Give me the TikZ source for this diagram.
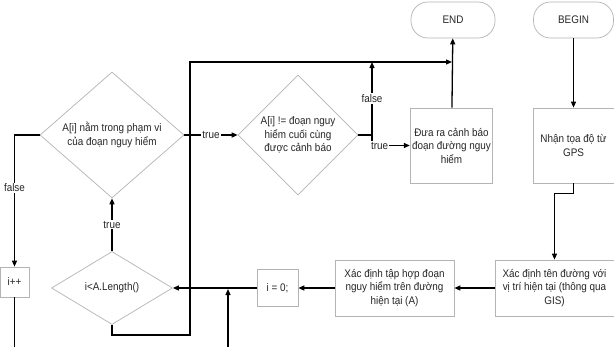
\documentclass[tikz,border=0pt]{standalone}
\usepackage{fontspec}
\setmainfont{Liberation Sans}[FakeStretch=0.9]
\usetikzlibrary{shapes.geometric, arrows.meta}
\definecolor{gborder}{HTML}{B4B4B4}
\definecolor{txt}{HTML}{262626}
\begin{document}
\begin{tikzpicture}[x=1pt, y=-1pt,
  font=\fontsize{11}{13.5}\selectfont,
  box/.style={draw=gborder, line width=0.7pt, align=center, inner sep=2pt, text=txt},
  dia/.style={diamond, draw=gborder, line width=0.7pt, align=center, inner sep=0pt, text=txt},
  term/.style={draw=gborder, rounded corners=17pt, line width=0.7pt, minimum width=84pt, minimum height=36pt, text=txt},
  conn/.style={line width=1.3pt, draw=black},
  arr/.style={conn, -{Triangle[length=6pt,width=5pt]}},
  lab/.style={fill=white, inner sep=1pt, text=txt}]
\useasboundingbox (0,0) rectangle (614,346);
\fill[white] (0,0) rectangle (614,346);
\clip (0,0) rectangle (614,346);

\node[term] (end) at (453,20) {END};
\node[term, minimum width=80pt] (begin) at (573.5,20) {BEGIN};
\node[box, minimum width=81pt, minimum height=75pt] (warn) at (451.5,145.5) {Đưa ra cảnh báo\\đoạn đường nguy\\hiểm};
\node[box, minimum width=81pt, minimum height=75pt] (gps) at (573.5,145.5) {Nhận tọa độ từ\\GPS};
\node[box, minimum width=119pt, minimum height=56pt] (road) at (554.5,288) {Xác định tên đường với\\vị trí hiện tại (thông qua\\GIS)};
\node[box, minimum width=119pt, minimum height=56pt] (set) at (394.5,288) {Xác định tập hợp đoạn\\nguy hiểm trên đường\\hiện tại (A)};
\node[box, minimum width=41pt, minimum height=37pt] (izero) at (277.5,288) {i = 0;};
\node[box, minimum width=29pt, minimum height=30pt] (ipp) at (14.5,282) {i++};
\node[dia, minimum width=144pt, minimum height=126pt] (d1) at (112,135) {A[i] nằm trong phạm vi\\của đoạn nguy hiểm};
\node[dia, minimum width=120pt, minimum height=120pt] (d2) at (298,135) {A[i] != đoạn nguy\\hiểm cuối cùng\\được cảnh báo};
\node[dia, minimum width=121pt, minimum height=73pt] (d3) at (112,288) {i<A.Length()};

\coordinate (j2) at (372,135);
\coordinate (jf) at (372,62);
\coordinate (tm) at (452,62);
\coordinate (tl) at (190,62);
\coordinate (db) at (190,335);
\coordinate (bl) at (14.5,360);
\coordinate (br) at (228,360);
\coordinate (jb) at (228,289);

\draw[arr] (begin) -- (gps);
\draw[arr] (warn) -- (end);
\draw[arr] (gps.south) -- ++(0,10) -| (road.north);
\draw[arr] (road) -- (set);
\draw[arr] (set) -- (izero);
\draw[arr] (izero) -- (d3.east);
\draw[arr] (d3.north) -- node[lab]{true} (d1.south);
\draw[arr] (d1.east) -- node[lab]{true} (d2.west);
\draw[conn] (d2.east) -- (j2);
\draw[arr] (j2) -- node[lab]{false} (jf);
\draw[arr] (j2) |- node[lab, pos=0.6]{true} (warn.west);
\draw[arr] (d1.west) -| node[lab, pos=0.7]{false} (ipp.north);
\draw[arr] (ipp.south) -- (bl) -- (br) -- (jb);
\draw[arr] (d3.south) |- (db) -- (tl) -- (tm);
\fill (190,135) circle (1.4pt);
\fill (190,288) circle (1.4pt);
\end{tikzpicture}
\end{document}
